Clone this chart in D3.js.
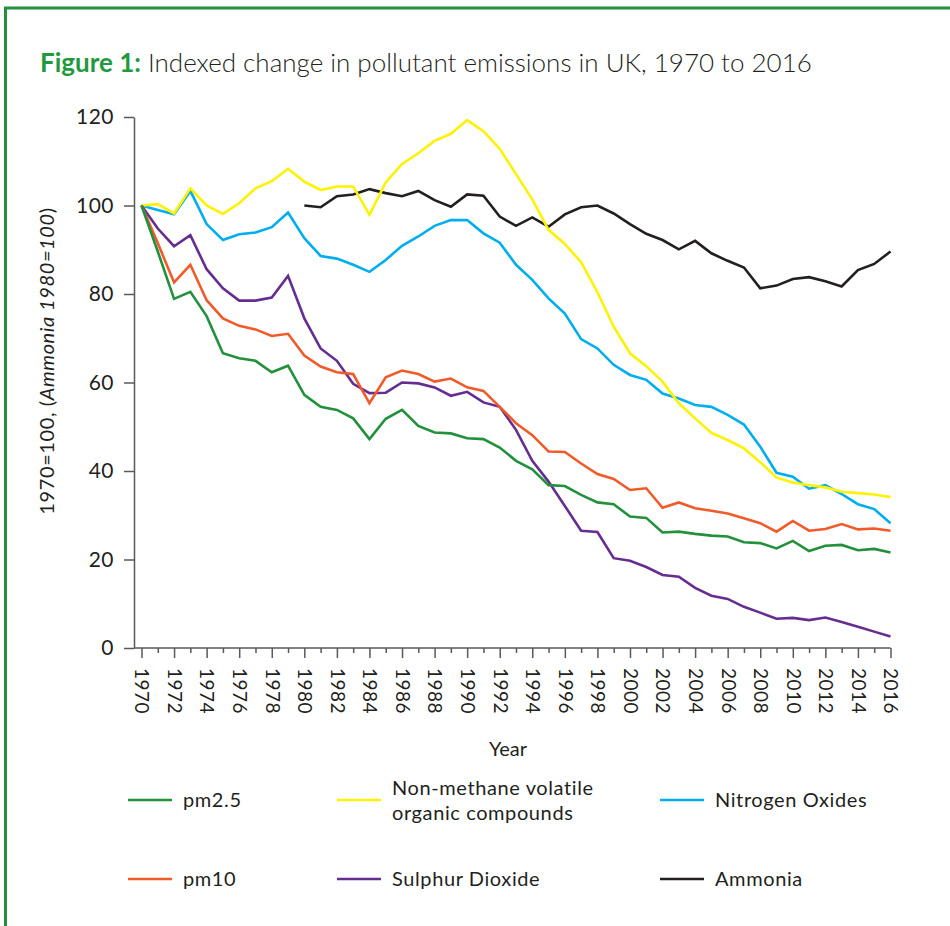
<!DOCTYPE html>
<html>
<head>
<meta charset="utf-8">
<script src="https://cdn.jsdelivr.net/npm/d3@7/dist/d3.min.js"></script>
<style>
  body { margin: 0; background: #fff; }
  text { font-family: Lato, "Open Sans", sans-serif; fill: #231f20; }
</style>
</head>
<body>
<script>
// Chart data
var years = d3.range(1970, 2017);

var pm25 = [100, 89.6, 78.9, 80.5, 75.0, 66.6, 65.5, 64.9, 62.3, 63.8,
    57.2, 54.5, 53.8, 51.9, 47.2, 51.8, 53.8, 50.2, 48.7, 48.5,
    47.4, 47.2, 45.3, 42.3, 40.4, 36.8, 36.6, 34.6, 32.9, 32.5,
    29.7, 29.4, 26.1, 26.3, 25.8, 25.4, 25.2, 23.9, 23.7, 22.5,
    24.2, 21.9, 23.1, 23.3, 22.1, 22.4, 21.6];

var pm10 = [100, 91.5, 82.6, 86.6, 78.6, 74.5, 72.8, 72.0, 70.5, 71.0,
    66.1, 63.6, 62.3, 61.9, 55.3, 61.2, 62.7, 61.9, 60.2, 60.9,
    58.9, 58.1, 54.5, 50.8, 48.1, 44.4, 44.3, 41.7, 39.3, 38.2,
    35.7, 36.1, 31.7, 32.9, 31.6, 31.0, 30.4, 29.3, 28.2, 26.3,
    28.7, 26.5, 26.9, 28.0, 26.8, 27.0, 26.5];

var nmvoc = [100, 100.3, 98.2, 103.9, 100.0, 98.1, 100.5, 103.9, 105.5, 108.3,
    105.4, 103.5, 104.3, 104.3, 97.9, 105.2, 109.4, 111.8, 114.6, 116.2,
    119.3, 116.8, 112.8, 107.1, 101.4, 94.5, 91.3, 87.2, 80.4, 72.6,
    66.6, 63.7, 60.2, 55.3, 51.9, 48.6, 47.0, 45.1, 42.0, 38.5,
    37.4, 36.8, 36.3, 35.3, 35.0, 34.7, 34.1];

var nox = [100, 99.0, 98.0, 103.3, 95.8, 92.2, 93.5, 93.9, 95.1, 98.4,
    92.6, 88.6, 88.0, 86.6, 85.0, 87.7, 90.9, 93.0, 95.4, 96.7,
    96.7, 93.7, 91.6, 86.6, 83.2, 79.0, 75.6, 69.8, 67.7, 64.0,
    61.7, 60.6, 57.5, 56.4, 54.9, 54.5, 52.7, 50.5, 45.5, 39.6,
    38.7, 36.0, 36.8, 34.8, 32.5, 31.4, 28.2];

var so2 = [100, 94.8, 90.8, 93.3, 85.6, 81.3, 78.5, 78.5, 79.2, 84.1,
    74.5, 67.7, 64.9, 59.7, 57.6, 57.7, 60.0, 59.8, 58.9, 57.0,
    57.9, 55.5, 54.5, 49.3, 42.3, 37.6, 32.1, 26.5, 26.2, 20.3,
    19.7, 18.3, 16.5, 16.1, 13.6, 11.8, 11.1, 9.3, 8.0, 6.6,
    6.8, 6.3, 6.9, 5.9, 4.8, 3.7, 2.6];

// Ammonia indexed to 1980, no values before that
var ammonia = [null, null, null, null, null, null, null, null, null, null,
    100.0, 99.6, 102.1, 102.5, 103.7, 102.8, 102.1, 103.3, 101.2, 99.7,
    102.5, 102.2, 97.5, 95.4, 97.3, 95.2, 98.0, 99.6, 100.0, 98.2,
    95.8, 93.6, 92.2, 90.1, 92.0, 89.2, 87.5, 86.0, 81.3, 81.9,
    83.4, 83.8, 82.9, 81.7, 85.4, 86.8, 89.6];

var yTicks = [0, 20, 40, 60, 80, 100, 120];

var series = [
    {name: ["pm2.5"], values: pm25, color: "#23903c"},
    {name: ["Non-methane volatile", "organic compounds"], values: nmvoc, color: "#fff200"},
    {name: ["Nitrogen Oxides"], values: nox, color: "#00aeef"},
    {name: ["pm10"], values: pm10, color: "#f15a29"},
    {name: ["Sulphur Dioxide"], values: so2, color: "#662d91"},
    {name: ["Ammonia"], values: ammonia, color: "#231f20"}
];

var svg = d3.select("body").append("svg")
    .attr("width", 950)
    .attr("height", 926);

// green frame (top and left)
svg.append("path")
    .attr("d", "M5.5,960 V8 H960")
    .attr("fill", "none")
    .attr("stroke", "#23903c")
    .attr("stroke-width", 3);

// Title
var title = svg.append("text")
    .attr("x", 40)
    .attr("y", 72)
    .style("font-size", "27px");
title.append("tspan")
    .style("font-weight", "bold")
    .style("fill", "#1f9a3f")
    .text("Figure 1:");
title.append("tspan")
    .style("font-weight", 300)
    .text(" Indexed change in pollutant emissions in UK, 1970 to 2016");
// fit the title to the width it has in the figure
var tw = title.node().getComputedTextLength();
title.style("font-size", (27 * 772 / tw) + "px");

// Scales
var xScale = d3.scaleLinear()
    .domain([1970, 2016])
    .range([141.5, 890.5]);

var yScale = d3.scaleLinear()
    .domain([0, 120])
    .range([648, 117]);

var axisColor = "#58595b";

// Y axis
var yAxis = d3.axisLeft(yScale)
    .tickValues(yTicks)
    .tickSize(10)
    .tickSizeOuter(0)
    .tickPadding(10);

var gy = svg.append("g")
    .attr("transform", "translate(134,0)")
    .call(yAxis);
gy.select(".domain").attr("stroke", axisColor).attr("stroke-width", 1.5);
gy.selectAll(".tick line").attr("stroke", axisColor).attr("stroke-width", 1.5);
gy.selectAll(".tick text")
    .style("font-size", "21px")
    .style("letter-spacing", "0.5px")
    .style("font-family", "Lato, sans-serif")
    .attr("fill", "#231f20");

// X axis
var xAxis = d3.axisBottom(xScale)
    .tickValues(years)
    .tickSizeOuter(0)
    .tickFormat(function(d) { return d % 2 === 0 ? d : ""; });

var gx = svg.append("g")
    .attr("transform", "translate(0,648)")
    .call(xAxis);
gx.select(".domain").remove();
gx.append("line")
    .attr("x1", 134).attr("x2", xScale(2016))
    .attr("stroke", axisColor).attr("stroke-width", 1.5);
gx.selectAll(".tick line")
    .attr("stroke", axisColor)
    .attr("stroke-width", 1.5)
    .attr("y2", function(d) { return d % 2 === 0 ? 10 : 5; });
gx.selectAll(".tick text")
    .style("font-size", "19px")
    .style("letter-spacing", "0.5px")
    .style("font-family", "Lato, sans-serif")
    .attr("fill", "#231f20")
    .attr("transform", "rotate(90)")
    .attr("x", 20)
    .attr("y", 0)
    .attr("dy", "0.35em")
    .attr("text-anchor", "start");

// Axis titles
svg.append("text")
    .attr("x", 508)
    .attr("y", 756)
    .attr("text-anchor", "middle")
    .style("font-size", "20px")
    .text("Year");

var ylab = svg.append("text")
    .attr("transform", "translate(54,361) rotate(-90)")
    .attr("text-anchor", "middle")
    .style("font-size", "20px")
    .style("letter-spacing", "0.6px");
ylab.append("tspan").text("1970=100, (");
ylab.append("tspan").style("font-style", "italic").text("Ammonia 1980=100");
ylab.append("tspan").text(")");

// Lines
var line = d3.line()
    .defined(function(d) { return d.v !== null; })
    .x(function(d) { return xScale(d.year); })
    .y(function(d) { return yScale(d.v); });

// draw order so green sits on top like the figure
var drawOrder = [5, 2, 1, 4, 3, 0];
drawOrder.forEach(function(i) {
    var s = series[i];
    svg.append("path")
        .datum(years.map(function(yr, j) { return {year: yr, v: s.values[j]}; }))
        .attr("fill", "none")
        .attr("stroke", s.color)
        .attr("stroke-width", 2.6)
        .attr("stroke-linejoin", "miter")
        .attr("d", line);
});

// Legend
var colX = [128, 337, 660],
    rowY = [800, 879];

series.forEach(function(s, i) {
    var cx = colX[i % 3],
        cy = rowY[Math.floor(i / 3)];
    var g = svg.append("g").attr("transform", "translate(" + cx + "," + cy + ")");
    g.append("line")
        .attr("x1", 0).attr("x2", 44)
        .attr("stroke", s.color)
        .attr("stroke-width", 2.6);
    var t = g.append("text")
        .attr("x", 55)
        .style("font-size", "20px")
        .style("letter-spacing", "0.6px");
    s.name.forEach(function(n, k) {
        t.append("tspan")
            .attr("x", 55)
            .attr("y", (k - (s.name.length - 1) / 2) * 25)
            .attr("dy", "0.35em")
            .text(n);
    });
});
</script>
</body>
</html>
